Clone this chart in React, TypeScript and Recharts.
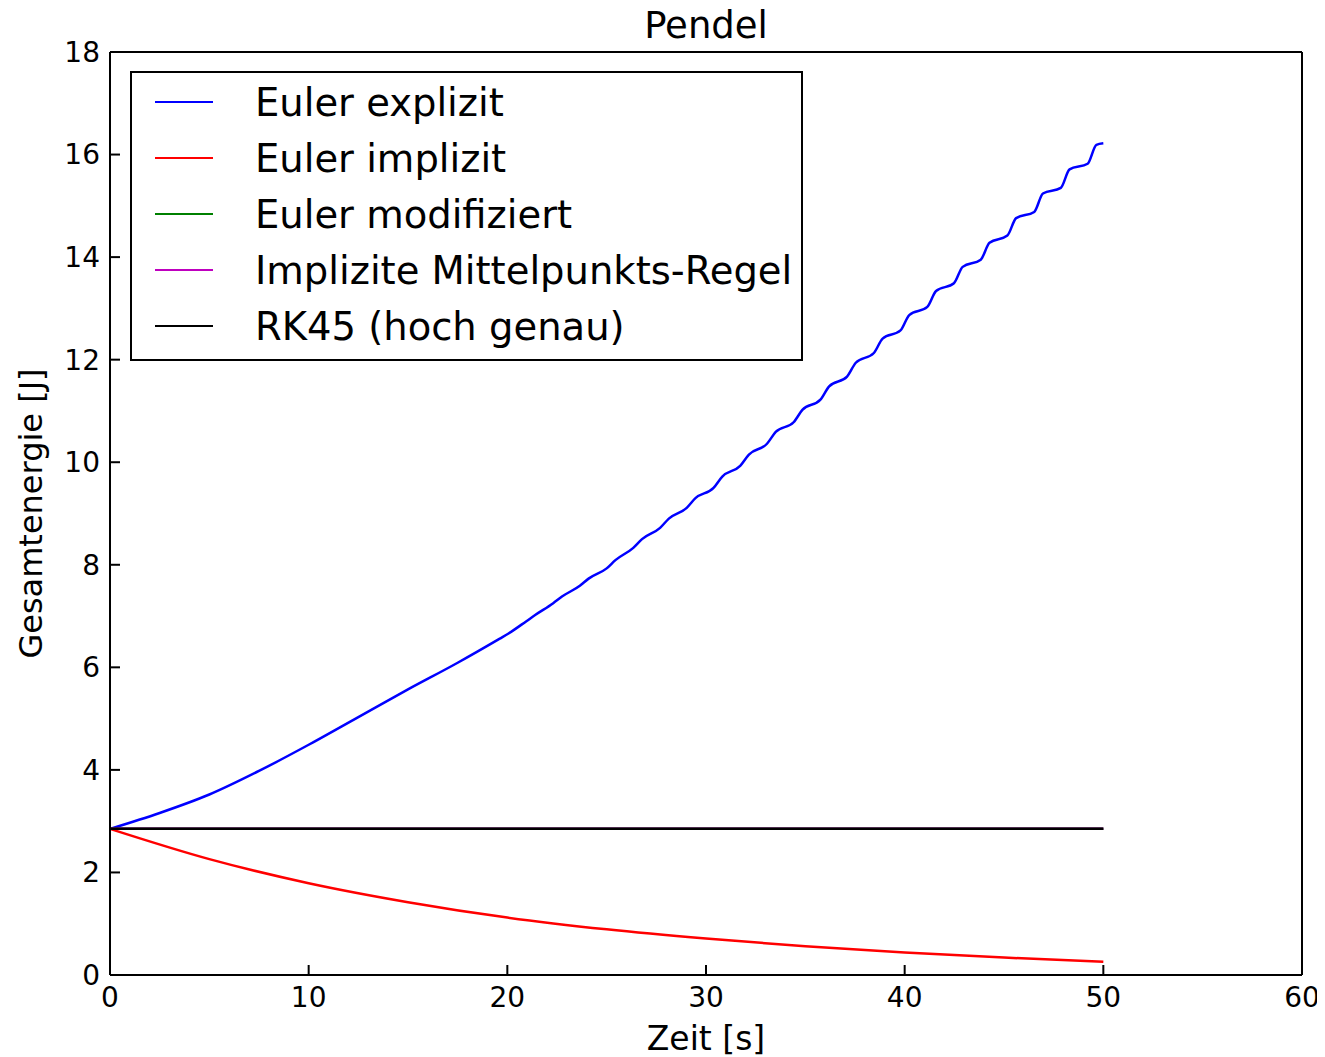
import React from "react";
import { LineChart, Line, XAxis, YAxis, Label } from "recharts";

const FONT = "'DejaVu Sans', 'Bitstream Vera Sans', sans-serif";

// [Zeit (s), Gesamtenergie (J)]
const eulerExplizit = [
  [0, 2.85], [2.5, 3.16], [5, 3.52], [7.5, 3.98], [10, 4.49], [12.5, 5.03],
  [15, 5.57], [17.5, 6.09],
  [19.62, 6.56], [20.06, 6.66], [20.96, 6.9], [21.4, 7.02],
  [22.31, 7.25], [22.75, 7.38], [23.65, 7.59], [24.09, 7.73],
  [25.0, 7.93], [25.44, 8.09], [26.34, 8.33], [26.78, 8.5],
  [27.69, 8.72], [28.13, 8.9], [29.03, 9.11], [29.47, 9.3],
  [30.38, 9.5], [30.82, 9.72], [31.72, 9.93], [32.16, 10.15],
  [33.07, 10.36], [33.51, 10.59], [34.41, 10.78], [34.85, 11.02],
  [35.76, 11.22], [36.2, 11.48], [37.1, 11.67], [37.54, 11.94],
  [38.45, 12.13], [38.89, 12.41], [39.79, 12.57], [40.23, 12.87],
  [41.14, 13.03], [41.58, 13.34], [42.48, 13.49], [42.92, 13.81],
  [43.83, 13.95], [44.27, 14.28], [45.17, 14.42], [45.61, 14.76],
  [46.52, 14.88], [46.96, 15.24], [47.86, 15.35], [48.3, 15.71],
  [49.21, 15.82], [49.65, 16.19], [50, 16.22],
];
const eulerImplizit = [
  [0, 2.85], [5, 2.26], [10, 1.79], [15, 1.42], [20, 1.12], [25, 0.89],
  [30, 0.71], [35, 0.56], [40, 0.44], [45, 0.34], [50, 0.26],
];
const eulerModifiziert = [[0, 2.85], [25, 2.85], [50, 2.85]];
const mittelpunkt = [[0, 2.85], [25, 2.85], [50, 2.85]];
const rk45 = [[0, 2.85], [25, 2.85], [50, 2.85]];

const xTicks = [0, 10, 20, 30, 40, 50, 60];
const yTicks = [0, 2, 4, 6, 8, 10, 12, 14, 16, 18];

const series = [
  { name: "Euler explizit", color: "#0000ff", points: eulerExplizit },
  { name: "Euler implizit", color: "#ff0000", points: eulerImplizit },
  { name: "Euler modifiziert", color: "#008000", points: eulerModifiziert },
  { name: "Implizite Mittelpunkts-Regel", color: "#bf00bf", points: mittelpunkt },
  { name: "RK45 (hoch genau)", color: "#000000", points: rk45 },
];

const toRows = (pts: number[][]) => pts.map(([t, e]) => ({ t, e }));

const tickStyle = { fill: "#000", fontSize: 28, fontFamily: FONT };
const frame = { stroke: "#000", strokeWidth: 2 };

function PlotLegend() {
  return (
    <div
      style={{
        position: "absolute",
        left: 122,
        top: 71,
        width: 673,
        height: 290,
        boxSizing: "border-box",
        border: "2px solid #000",
        background: "#fff",
        paddingTop: 1,
        fontFamily: FONT,
        fontSize: 38.5,
        color: "#000",
      }}
    >
      {series.map((s) => (
        <div
          key={s.name}
          style={{ height: 56, display: "flex", alignItems: "center" }}
        >
          <div
            style={{
              marginLeft: 23,
              width: 58,
              height: 2,
              background: s.color,
            }}
          />
          <span style={{ marginLeft: 42, whiteSpace: "nowrap" }}>{s.name}</span>
        </div>
      ))}
    </div>
  );
}

export default function App() {
  // shifted up by the body margin so the title has room above the frame
  return (
    <div style={{ position: "relative", width: 1317, height: 1057, marginTop: -8 }}>
      <LineChart
        width={1317}
        height={1057}
        margin={{ top: 51, right: 22, left: 0, bottom: 0 }}
      >
        <XAxis
          xAxisId="bottom"
          dataKey="t"
          type="number"
          domain={[0, 60]}
          ticks={xTicks}
          interval={0}
          height={82}
          tick={tickStyle}
          tickSize={-10}
          tickMargin={22}
          axisLine={frame}
          tickLine={frame}
          allowDuplicatedCategory={false}
        >
          <Label
            value="Zeit [s]"
            position="insideBottom"
            offset={7}
            style={{ fill: "#000", fontSize: 33, fontFamily: FONT }}
          />
        </XAxis>
        <XAxis
          xAxisId="top"
          orientation="top"
          dataKey="t"
          type="number"
          domain={[0, 60]}
          ticks={xTicks}
          interval={0}
          height={1}
          tick={false}
          tickSize={-10}
          axisLine={frame}
          tickLine={frame}
        >
          <Label
            value="Pendel"
            position="top"
            offset={13}
            style={{ fill: "#000", fontSize: 37, fontFamily: FONT }}
          />
        </XAxis>
        <YAxis
          yAxisId="left"
          type="number"
          domain={[0, 18]}
          ticks={yTicks}
          interval={0}
          width={102}
          tick={tickStyle}
          tickSize={-10}
          tickMargin={20}
          axisLine={frame}
          tickLine={frame}
        >
          <Label
            content={(props: any) => {
              const vb = props.viewBox || {};
              const cx = (vb.x ?? 0) + 34;
              const cy = (vb.y ?? 52) + (vb.height ?? 923) / 2;
              return (
                <text
                  x={cx}
                  y={cy}
                  transform={`rotate(-90 ${cx} ${cy})`}
                  textAnchor="middle"
                  fill="#000"
                  fontSize={32}
                  fontFamily={FONT}
                >
                  Gesamtenergie [J]
                </text>
              );
            }}
          />
        </YAxis>
        <YAxis
          yAxisId="right"
          orientation="right"
          type="number"
          domain={[0, 18]}
          ticks={yTicks}
          interval={0}
          width={1}
          tick={false}
          tickSize={-10}
          axisLine={frame}
          tickLine={frame}
        />
        {series.map((s) => (
          <Line
            key={s.name}
            xAxisId="bottom"
            yAxisId="left"
            data={toRows(s.points)}
            dataKey="e"
            name={s.name}
            type="monotone"
            stroke={s.color}
            strokeWidth={2.5}
            dot={false}
            activeDot={false}
            isAnimationActive={false}
          />
        ))}
      </LineChart>
      <PlotLegend />
    </div>
  );
}
